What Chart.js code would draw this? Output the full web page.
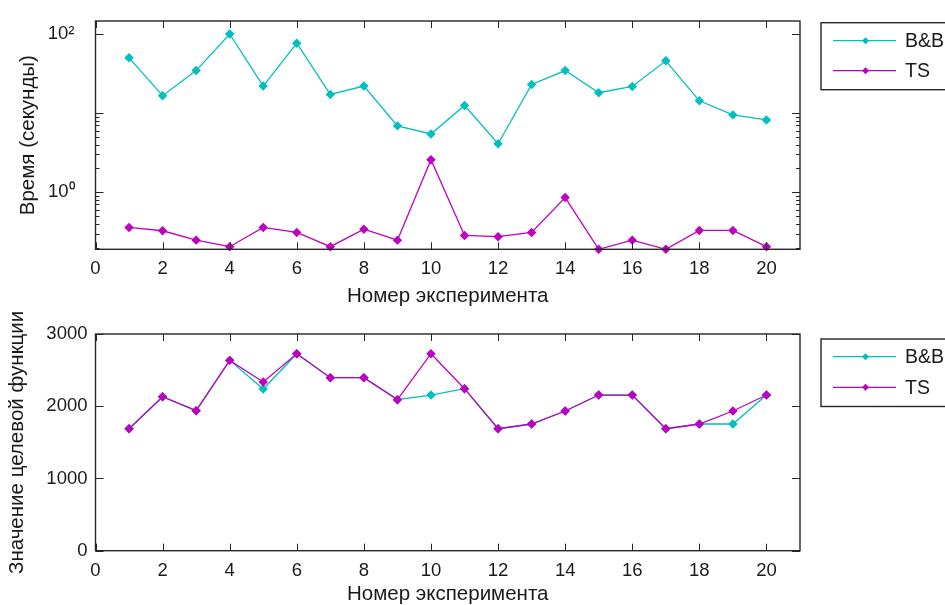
<!DOCTYPE html>
<html>
<head>
<meta charset="utf-8">
<script src="https://cdn.jsdelivr.net/npm/chart.js@4.4.1/dist/chart.umd.min.js"></script>
<style>
  html, body { margin: 0; padding: 0; background: #fff; overflow: hidden; }
  canvas { position: absolute; left: 0; }
  #timeChart { top: 0; }
  #objChart { top: 300px; }
</style>
</head>
<body>
<canvas id="timeChart" width="945" height="320"></canvas>
<canvas id="objChart" width="945" height="305"></canvas>
<script>
// --- data ---
const experiments = [1, 2, 3, 4, 5, 6, 7, 8, 9, 10, 11, 12, 13, 14, 15, 16, 17, 18, 19, 20];
const seriesNames = ['B&B', 'TS'];

// time, seconds (log axis)
const timeBB = [50, 16.6, 34.5, 100, 22, 76.6, 17.2, 22, 6.9, 5.45, 12.5, 4.1, 23, 34.5, 18.1, 21.7, 45.8, 14.3, 9.5, 8.2];
const timeTS = [0.359, 0.326, 0.248, 0.205, 0.359, 0.31, 0.205, 0.341, 0.248, 2.58, 0.284, 0.274, 0.31, 0.857, 0.19, 0.248, 0.19, 0.329, 0.329, 0.205];

// objective function value
const objBB = [1689, 2132, 1938, 2635, 2238, 2727, 2395, 2395, 2091, 2155, 2243, 1689, 1754, 1934, 2155, 2155, 1689, 1754, 1754, 2155];
const objTS = [1689, 2132, 1938, 2635, 2335, 2727, 2395, 2395, 2091, 2727, 2243, 1689, 1754, 1934, 2155, 2155, 1689, 1754, 1934, 2155];

// ticks
const xTicks = [0, 2, 4, 6, 8, 10, 12, 14, 16, 18, 20];
const timeTicks = [0.2, 0.3, 0.4, 0.5, 0.6, 0.7, 0.8, 0.9, 1, 2, 3, 4, 5, 6, 7, 8, 9, 10, 100];
const timeTickLabels = { 1: '10\u2070', 100: '10\u00B2' };
const objTicks = [0, 1000, 2000, 3000];

const xTitle = 'Номер эксперимента';
const timeTitle = 'Время (секунды)';
const objTitle = 'Значение целевой функции';

// --- styling ---
const CYAN = '#00bfbf';
const MAGENTA = '#bf00bf';
const INK = '#1a1a1a';
const FONT = 'Liberation Sans, Arial, sans-serif';
const TICK_SIZE = 18.5;
const TITLE_SIZE = 20.5;

function points(ys) {
  return experiments.map((x, i) => ({ x: x, y: ys[i] }));
}

function makeDatasets(bb, ts) {
  const common = {
    borderWidth: 1.3,
    pointStyle: 'rectRot',
    pointRadius: 3.8,
    pointHoverRadius: 3.8,
    tension: 0,
    clip: false
  };
  return [
    Object.assign({ label: seriesNames[0], data: points(bb), borderColor: CYAN, backgroundColor: CYAN, order: 1 }, common),
    Object.assign({ label: seriesNames[1], data: points(ts), borderColor: MAGENTA, backgroundColor: MAGENTA, order: 0 }, common)
  ];
}

// frame with inward tick marks on all four sides, like the MATLAB axes
const framePlugin = {
  id: 'frame',
  afterDraw(chart) {
    const { ctx, chartArea: a, scales } = chart;
    ctx.save();
    ctx.strokeStyle = '#262626';
    ctx.lineWidth = 1.4;
    ctx.strokeRect(a.left, a.top, a.right - a.left, a.bottom - a.top);
    ctx.lineWidth = 1;
    ctx.beginPath();
    scales.x.ticks.forEach(t => {
      const px = Math.round(scales.x.getPixelForValue(t.value)) + 0.5;
      ctx.moveTo(px, a.bottom); ctx.lineTo(px, a.bottom - 7);
      ctx.moveTo(px, a.top); ctx.lineTo(px, a.top + 7);
    });
    const ys = scales.y;
    ys.ticks.forEach(t => {
      const py = Math.round(ys.getPixelForValue(t.value)) + 0.5;
      let len = 8;
      if (ys.type === 'logarithmic' && Math.abs(Math.log10(t.value) - Math.round(Math.log10(t.value))) > 1e-6) len = 4;
      ctx.moveTo(a.left, py); ctx.lineTo(a.left + len, py);
      ctx.moveTo(a.right, py); ctx.lineTo(a.right - len, py);
    });
    ctx.stroke();
    ctx.restore();
  }
};

// boxed legend to the right of the axes
const boxLegendPlugin = {
  id: 'boxLegend',
  afterDraw(chart, args, opts) {
    const { ctx, chartArea: a } = chart;
    const left = a.right + opts.dx;
    const top = a.top + opts.dy;
    ctx.save();
    ctx.fillStyle = '#fff';
    ctx.fillRect(left, top, 200, opts.height);
    ctx.strokeStyle = '#262626';
    ctx.lineWidth = 1.4;
    ctx.strokeRect(left, top, 200, opts.height);
    ctx.font = '19.5px ' + FONT;
    ctx.textBaseline = 'middle';
    chart.data.datasets.forEach((ds, i) => {
      const y = top + opts.rows[i];
      ctx.strokeStyle = ds.borderColor;
      ctx.lineWidth = 1.3;
      ctx.beginPath();
      ctx.moveTo(left + 12, y); ctx.lineTo(left + 75, y);
      ctx.stroke();
      ctx.fillStyle = ds.borderColor;
      ctx.beginPath();
      ctx.moveTo(left + 44.5, y - 3.5); ctx.lineTo(left + 48, y);
      ctx.lineTo(left + 44.5, y + 3.5); ctx.lineTo(left + 41, y);
      ctx.closePath(); ctx.fill();
      ctx.fillStyle = INK;
      ctx.fillText(ds.label, left + 84, y + 1);
    });
    ctx.restore();
  }
};

// fixed axis box sizes; drop the extra label padding Chart.js adds around the plot
function fixWidth(w) {
  return s => { s.width = w; s.paddingTop = 0; s.paddingBottom = 0; };
}
function fixHeight(h) {
  return s => { s.height = h; s.paddingLeft = 0; s.paddingRight = 0; };
}

function xScale(titlePadBottom, xHeight) {
  return {
    type: 'linear',
    min: 0,
    max: 21,
    afterBuildTicks: s => { s.ticks = xTicks.map(v => ({ value: v })); },
    afterFit: fixHeight(xHeight),
    grid: { display: false, drawTicks: false },
    border: { display: false },
    ticks: { color: INK, font: { family: FONT, size: TICK_SIZE }, padding: 9, maxRotation: 0, autoSkip: false, callback: v => String(v) },
    title: { display: true, text: xTitle, color: INK, font: { family: FONT, size: TITLE_SIZE }, padding: { top: 0, bottom: titlePadBottom } }
  };
}

Chart.defaults.animation = false;

new Chart(document.getElementById('timeChart'), {
  type: 'line',
  data: { datasets: makeDatasets(timeBB, timeTS) },
  options: {
    responsive: false,
    animation: false,
    layout: { padding: { top: 21, right: 145, left: 0, bottom: 0 } },
    plugins: {
      legend: { display: false },
      tooltip: { enabled: false },
      boxLegend: { dx: 21, dy: 1.7, height: 67, rows: [18, 48] }
    },
    scales: {
      x: xScale(11.5, 70.7),
      y: {
        type: 'logarithmic',
        min: 0.19,
        max: 146,
        afterBuildTicks: s => { s.ticks = timeTicks.map(v => ({ value: v })); },
        afterFit: fixWidth(95.5),
        grid: { display: false, drawTicks: false },
        border: { display: false },
        ticks: {
          color: INK,
          font: { family: FONT, size: TICK_SIZE },
          padding: 21,
          autoSkip: false,
          callback: v => timeTickLabels[v] || ''
        },
        title: { display: true, text: timeTitle, color: INK, font: { family: FONT, size: TITLE_SIZE }, padding: { top: 16.5, bottom: 0 } }
      }
    }
  },
  plugins: [framePlugin, boxLegendPlugin]
});

new Chart(document.getElementById('objChart'), {
  type: 'line',
  data: { datasets: makeDatasets(objBB, objTS) },
  options: {
    responsive: false,
    animation: false,
    layout: { padding: { top: 34, right: 145, left: 0, bottom: 0 } },
    plugins: {
      legend: { display: false },
      tooltip: { enabled: false },
      boxLegend: { dx: 21, dy: 5, height: 67.5, rows: [17.7, 48.3] }
    },
    scales: {
      x: xScale(-2, 54.3),
      y: {
        type: 'linear',
        min: 0,
        max: 3000,
        afterBuildTicks: s => { s.ticks = objTicks.map(v => ({ value: v })); },
        afterFit: fixWidth(95.5),
        grid: { display: false, drawTicks: false },
        border: { display: false },
        ticks: { color: INK, font: { family: FONT, size: TICK_SIZE }, padding: 8, autoSkip: false, callback: v => String(v) },
        title: { display: true, text: objTitle, color: INK, font: { family: FONT, size: TITLE_SIZE }, padding: { top: 5.5, bottom: 0 } }
      }
    }
  },
  plugins: [framePlugin, boxLegendPlugin]
});
</script>
</body>
</html>
